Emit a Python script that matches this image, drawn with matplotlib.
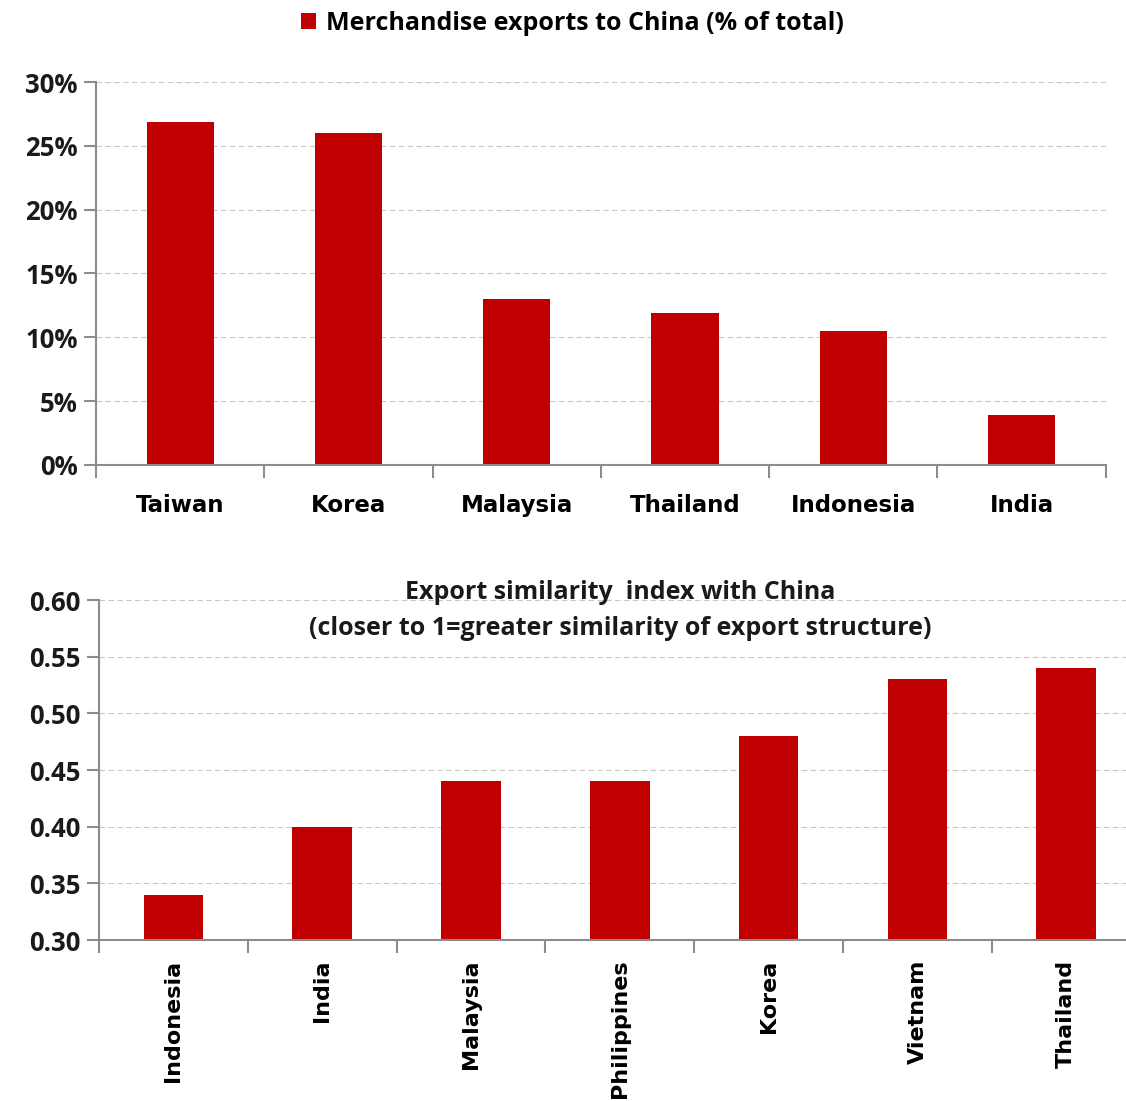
import matplotlib.pyplot as plt
from matplotlib.ticker import FuncFormatter

# top panel data
share_countries = ['Taiwan', 'Korea', 'Malaysia', 'Thailand', 'Indonesia', 'India']
share_values = [26.9, 26.0, 13.0, 11.9, 10.5, 3.9]

# bottom panel data
sim_countries = ['Indonesia', 'India', 'Malaysia', 'Philippines', 'Korea', 'Vietnam', 'Thailand']
sim_values = [0.34, 0.40, 0.44, 0.44, 0.48, 0.53, 0.54]

RED = '#C00000'
AXC = '#8c8c8c'
TFONT = 'Open Sans'
XFONT = 'DejaVu Sans'


def style_axes(ax):
    for side in ['top', 'right']:
        ax.spines[side].set_visible(False)
    for side in ['left', 'bottom']:
        ax.spines[side].set_color(AXC)
        ax.spines[side].set_linewidth(1.5)
    ax.grid(axis='y', linestyle=(0, (5, 3)), color='#c8c8c8', linewidth=0.8)
    ax.set_axisbelow(True)
    ax.tick_params(axis='y', length=9, width=1.5, color=AXC, pad=4)
    for lab in ax.get_yticklabels():
        lab.set_fontfamily(TFONT)
        lab.set_fontweight('bold')
        lab.set_fontsize(18.5)
        lab.set_color('#1a1a1a')


fig = plt.figure(figsize=(11.26, 11.01), dpi=100)

# top chart
ax1 = fig.add_axes([0.0853, 0.5777, 0.8966, 0.3478])
x1 = range(len(share_countries))
ax1.bar(x1, share_values, width=0.4, color=RED, label='Merchandise exports to China (% of total)')
ax1.set_xlim(-0.5, len(share_countries) - 0.5)
ax1.set_ylim(0, 30)
ax1.set_yticks([0, 5, 10, 15, 20, 25, 30])
ax1.yaxis.set_major_formatter(FuncFormatter(lambda v, p: f'{v:.0f}%'))
ax1.set_xticks([i + 0.5 for i in range(-1, len(share_countries))], minor=False)
ax1.set_xticklabels([])
ax1.set_xticks(list(x1), minor=True)
ax1.set_xticklabels(share_countries, minor=True, fontfamily=XFONT, fontweight='bold', fontsize=16.5)
ax1.tick_params(axis='x', which='major', length=9, width=1.5, color=AXC, direction='out')
ax1.tick_params(axis='x', which='minor', length=0, pad=21)
style_axes(ax1)
leg = ax1.legend(loc='lower center', bbox_to_anchor=(0.472, 1.062), frameon=False,
                 handlelength=0.6, handleheight=0.6, handletextpad=0.4,
                 prop={'family': TFONT, 'weight': 'bold', 'size': 18})

# bottom chart
ax2 = fig.add_axes([0.0879, 0.1462, 0.9251, 0.3088])
x2 = range(len(sim_countries))
ax2.bar(x2, sim_values, width=0.4, color=RED)
ax2.set_xlim(-0.5, len(sim_countries) - 0.5)
ax2.set_ylim(0.30, 0.60)
ax2.set_yticks([0.30, 0.35, 0.40, 0.45, 0.50, 0.55, 0.60])
ax2.yaxis.set_major_formatter(FuncFormatter(lambda v, p: f'{v:.2f}'))
ax2.set_xticks([i + 0.5 for i in range(-1, len(sim_countries))], minor=False)
ax2.set_xticklabels([])
ax2.set_xticks(list(x2), minor=True)
ax2.set_xticklabels(sim_countries, minor=True, rotation=90, va='top',
                    fontfamily=XFONT, fontweight='bold', fontsize=16)
ax2.tick_params(axis='x', which='major', length=9, width=1.5, color=AXC, direction='out')
ax2.tick_params(axis='x', which='minor', length=0, pad=14)
style_axes(ax2)
ax2.text(0.50, 0.97, 'Export similarity  index with China\n(closer to 1=greater similarity of export structure)',
         transform=ax2.transAxes, ha='center', va='center', fontfamily=TFONT, fontweight='bold',
         fontsize=18, color='#1a1a1a', linespacing=1.6)

fig.savefig('out.png', dpi=100)
